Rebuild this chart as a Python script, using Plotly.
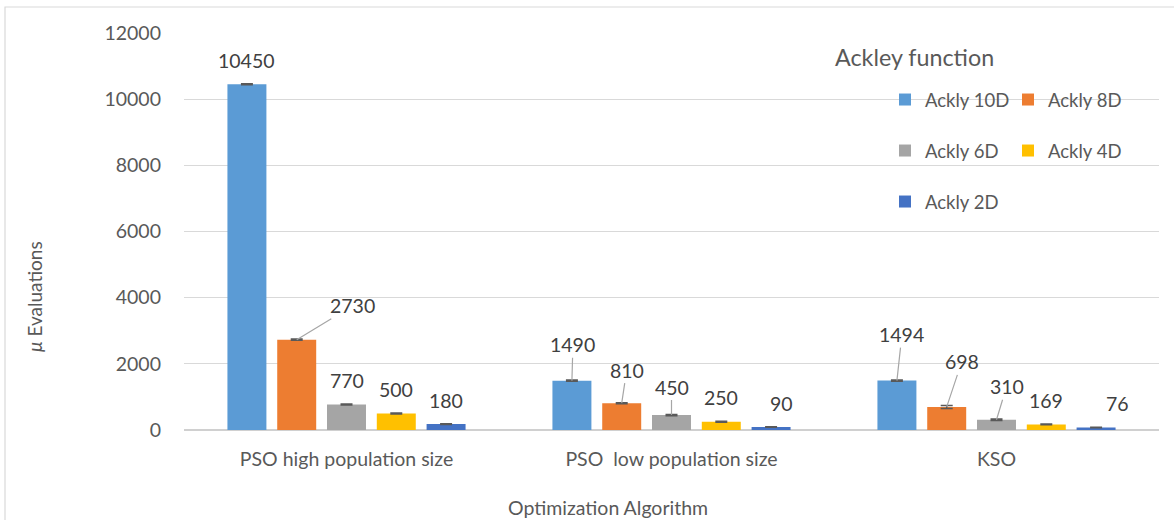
import plotly.graph_objects as go

# ---- data ----
algorithms = ["PSO high population size", "PSO  low population size", "KSO"]
series_names = ["Ackly 10D", "Ackly 8D", "Ackly 6D", "Ackly 4D", "Ackly 2D"]
ackly_10d = [10450, 1490, 1494]
ackly_8d = [2730, 810, 698]
ackly_6d = [770, 450, 310]
ackly_4d = [500, 250, 169]
ackly_2d = [180, 90, 76]
err_10d = [15, 20, 20]
err_8d = [20, 15, 45]
err_6d = [15, 20, 20]
err_4d = [15, 12, 10]
err_2d = [10, 10, 10]
y_ticks = [0, 2000, 4000, 6000, 8000, 10000, 12000]

series_values = [ackly_10d, ackly_8d, ackly_6d, ackly_4d, ackly_2d]
series_errors = [err_10d, err_8d, err_6d, err_4d, err_2d]
colors = ["#5B9BD5", "#ED7D31", "#A5A5A5", "#FFC000", "#4472C4"]
legend_ids = ["legend", "legend", "legend2", "legend2", "legend3"]

# ---- layout geometry ----
W, H = 1174, 520
ML, MR, MT, MB = 184, 15, 33, 90
PW = W - ML - MR
PH = H - MT - MB
BARGAP = 0.234
BARGROUPGAP = 0.217
slot_px = (PW / len(algorithms)) * (1 - BARGAP) / len(series_names)


def px_to_paper_x(px):
    return (px - ML) / PW


def px_to_paper_y(py):
    return (H - MB - py) / PH


FONT = "Lato, Carlito, Calibri, sans-serif"
TXT = "#595959"
LBL = "#404040"
FS = 19.5

fig = go.Figure()
for name, vals, errs, col, lg in zip(series_names, series_values, series_errors, colors, legend_ids):
    fig.add_trace(go.Bar(
        name=name, x=algorithms, y=vals,
        marker=dict(color=col, line=dict(width=0)),
        error_y=dict(type="data", array=errs, visible=True, color="#595959",
                     thickness=1.5, width=6),
        legend=lg,
    ))

# data label placement (pixel offsets relative to bar top)
leader = {
    (1, 0): (56, -34),
    (0, 1): (1, -36), (1, 1): (5, -33), (2, 1): (0, -28),
    (0, 2): (5, -46), (1, 2): (15, -45), (2, 2): (10, -33),
}
xshift_extra = {(4, 1): 10, (4, 2): 21}

annotations = []
for si, vals in enumerate(series_values):
    off = (si - (len(series_names) - 1) / 2) * slot_px
    for ci, v in enumerate(vals):
        if (si, ci) in leader:
            ax, ay = leader[(si, ci)]
            annotations.append(dict(
                x=algorithms[ci], y=v, xref="x", yref="y", text=str(v),
                showarrow=True, arrowhead=0, arrowwidth=1.2, arrowcolor="#A6A6A6",
                ax=ax, ay=ay, xshift=off, standoff=0,
                font=dict(family=FONT, size=FS, color=LBL),
            ))
        else:
            annotations.append(dict(
                x=algorithms[ci], y=v, xref="x", yref="y", text=str(v),
                showarrow=False, xshift=off + xshift_extra.get((si, ci), 0), yshift=24,
                yanchor="middle",
                font=dict(family=FONT, size=FS, color=LBL),
            ))

annotations.append(dict(
    x=px_to_paper_x(833), y=px_to_paper_y(57), xref="paper", yref="paper",
    text="Ackley function", showarrow=False, xanchor="left", yanchor="middle",
    font=dict(family=FONT, size=23.3, color=TXT),
))
annotations.append(dict(
    x=px_to_paper_x(34), y=px_to_paper_y(297), xref="paper", yref="paper",
    text="<i>μ</i> Evaluations", showarrow=False, textangle=-90,
    xanchor="center", yanchor="middle",
    font=dict(family=FONT, size=19, color=TXT),
))
annotations.append(dict(
    x=px_to_paper_x(608), y=px_to_paper_y(507), xref="paper", yref="paper",
    text="Optimization Algorithm", showarrow=False,
    xanchor="center", yanchor="middle",
    font=dict(family=FONT, size=FS, color=TXT),
))

legend_common = dict(
    orientation="h", xanchor="left", yanchor="middle",
    entrywidth=78, entrywidthmode="pixels",
    bgcolor="rgba(0,0,0,0)", font=dict(family=FONT, size=18.5, color=TXT),
    traceorder="normal",
)
lx = px_to_paper_x(885)

fig.update_layout(
    width=W, height=H,
    margin=dict(l=ML, r=MR, t=MT, b=MB, pad=0),
    paper_bgcolor="white", plot_bgcolor="white",
    barmode="group", bargap=BARGAP, bargroupgap=BARGROUPGAP,
    font=dict(family=FONT, size=FS, color=TXT),
    showlegend=True,
    legend=dict(legend_common, x=lx, y=px_to_paper_y(100)),
    legend2=dict(legend_common, x=lx, y=px_to_paper_y(151)),
    legend3=dict(legend_common, x=lx, y=px_to_paper_y(202)),
    xaxis=dict(showgrid=False, showline=False, zeroline=False, ticks="",
               tickfont=dict(family=FONT, size=FS, color=TXT), ticklabelstandoff=15),
    yaxis=dict(range=[0, 12000], tickvals=y_ticks, tickformat="d", showgrid=True,
               gridcolor="#D9D9D9", gridwidth=1, zeroline=True, zerolinecolor="#D0D0D0",
               zerolinewidth=1.5, showline=False, ticks="", ticklabelstandoff=22,
               tickfont=dict(family=FONT, size=FS, color=TXT)),
    annotations=annotations,
    shapes=[dict(type="rect", xref="paper", yref="paper",
                 x0=px_to_paper_x(5), x1=px_to_paper_x(1180),
                 y0=px_to_paper_y(530), y1=px_to_paper_y(7),
                 line=dict(color="#D9D9D9", width=1.2), fillcolor="rgba(0,0,0,0)",
                 layer="below")],
)

fig.write_html("out.html", config={"displayModeBar": False},
               post_script="document.body.style.margin='0';")
